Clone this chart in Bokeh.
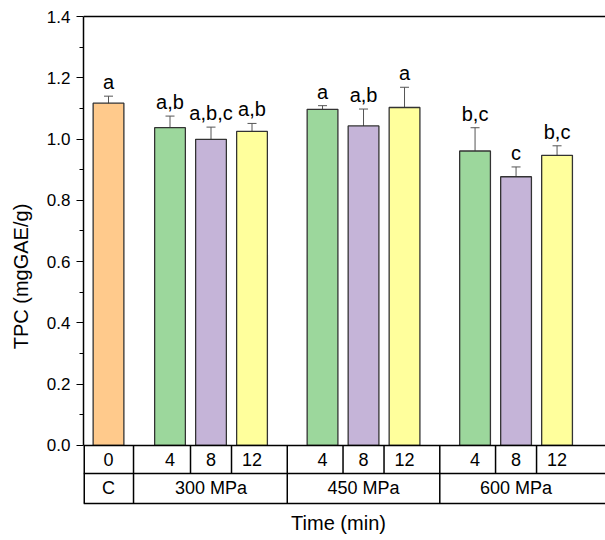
from bokeh.plotting import figure
from bokeh.models import (Range1d, Whisker, TeeHead, ColumnDataSource, FixedTicker,
                          PrintfTickFormatter)
from bokeh.core.properties import value
from bokeh.embed import file_html
from bokeh.resources import INLINE

# ---- data ----
groups = ["C", "300 MPa", "450 MPa", "600 MPa"]
group_times = [["0"], ["4", "8", "12"], ["4", "8", "12"], ["4", "8", "12"]]
tpc = [1.117, 1.037, 0.999, 1.025, 1.097, 1.043, 1.103, 0.961, 0.877, 0.947]
err = [0.023, 0.038, 0.040, 0.026, 0.012, 0.055, 0.066, 0.076, 0.032, 0.031]
letters = ["a", "a,b", "a,b,c", "a,b", "a", "a,b", "a", "b,c", "c", "b,c"]
time_colors = {"0": "#FFCA8C", "4": "#9CD79C", "8": "#C5B4D8", "12": "#FFFF9C"}
y_major = [0.0, 0.2, 0.4, 0.6, 0.8, 1.0, 1.2, 1.4]
y_minor = [0.1, 0.3, 0.5, 0.7, 0.9, 1.1, 1.3]
y_top = 1.4

# ---- layout constants ----
FONT = value("Liberation Sans")
W, H = 605, 540
LEFT, TOP = 83, 12
PX_X = 41.0          # px per x unit
PX_Y = 306.4         # px per y unit
group_gaps = [0, 1.5, 1.72, 1.72]
x_start = -0.61
bar_w = 0.75

pos, times, group_centers = [], [], []
x = 0.0
for gi, tl in enumerate(group_times):
    if gi > 0:
        x += group_gaps[gi]
    first = x
    for j, t in enumerate(tl):
        if j > 0:
            x += 1
        pos.append(x)
        times.append(t)
    group_centers.append((first + x) / 2)

x_end = x_start + (W - LEFT) / PX_X
y_end = y_top + 4.0 / PX_Y
y_start = y_end - (H - TOP) / PX_Y
row1 = -28 / PX_Y
row2 = -58 / PX_Y

p = figure(width=W, height=H, output_backend="svg", toolbar_location=None,
           x_range=Range1d(x_start, x_end), y_range=Range1d(y_start, y_end),
           x_axis_location=None, min_border_left=LEFT, min_border_top=TOP,
           min_border_right=0, min_border_bottom=0)
p.outline_line_color = None
p.xgrid.visible = False
p.ygrid.visible = False
p.background_fill_color = "white"

ax = p.yaxis[0]
ax.bounds = (0, y_top)
ax.ticker = FixedTicker(ticks=y_major, minor_ticks=y_minor)
ax.formatter = PrintfTickFormatter(format="%.1f")
ax.axis_line_width = 1.5
ax.axis_line_color = "black"
ax.major_tick_out = 7
ax.major_tick_in = 0
ax.minor_tick_out = 4
ax.minor_tick_in = 0
ax.major_tick_line_width = 1.2
ax.minor_tick_line_width = 1.2
ax.major_label_text_font = "Liberation Sans"
ax.major_label_text_font_size = "17px"
ax.major_label_text_color = "black"
ax.major_label_standoff = 6
ax.axis_label = "TPC (mgGAE/g)"
ax.axis_label_text_font = "Liberation Sans"
ax.axis_label_text_font_size = "20px"
ax.axis_label_text_font_style = "normal"
ax.axis_label_text_color = "black"
ax.axis_label_standoff = 12

src = ColumnDataSource(dict(
    x=pos, top=tpc, upper=[v + e for v, e in zip(tpc, err)],
    lower=[v - e for v, e in zip(tpc, err)], letter=letters,
    color=[time_colors[t] for t in times], time=times))

p.vbar(x="x", top="top", bottom=0, width=bar_w, fill_color="color",
       line_color="#333333", line_width=1.3, source=src)

wh = Whisker(source=src, base="x", upper="upper", lower="lower",
             line_color="#555555", line_width=1,
             upper_head=TeeHead(size=9, line_color="#555555", line_width=1),
             lower_head=TeeHead(size=9, line_color="#555555", line_width=1))
p.add_layout(wh)

p.text(x="x", y="upper", text="letter", source=src, text_align="center",
       text_baseline="bottom", y_offset=-3, text_font=FONT,
       text_font_size="20px", text_color="black")

# ---- horizontal rules: frame top, axis line, table rows ----
line_kw = dict(line_color="black", line_width=1.5)
p.segment(x0=[x_start] * 4, x1=[x_end] * 4, y0=[y_top, 0, row1, row2],
          y1=[y_top, 0, row1, row2], **line_kw)
p.segment(x0=[x_start], x1=[x_start], y0=[0], y1=[row2], line_color="black", line_width=3)

cell_b = []
for i in range(len(pos) - 1):
    if i == 0:
        cell_b.append(pos[0] + (pos[0] - x_start))
    else:
        cell_b.append((pos[i] + pos[i + 1]) / 2)
gb_idx = []
k = 0
for tl in group_times[:-1]:
    k += len(tl)
    gb_idx.append(k - 1)
inner = [b for i, b in enumerate(cell_b) if i not in gb_idx]
outer = [cell_b[i] for i in gb_idx]
p.segment(x0=inner, x1=inner, y0=[0] * len(inner), y1=[row1] * len(inner), **line_kw)
p.segment(x0=outer, x1=outer, y0=[0] * len(outer), y1=[row2] * len(outer), **line_kw)

p.text(x=pos, y=[row1 / 2] * len(pos), text=times, text_align="center",
       text_baseline="middle", text_font=FONT, text_font_size="18px", text_color="black")
p.text(x=group_centers, y=[(row1 + row2) / 2] * len(groups), text=groups,
       text_align="center", text_baseline="middle", text_font=FONT,
       text_font_size="18px", text_color="black")

p.text(x=[(338 - 108) / PX_X], y=[-78 / PX_Y], text=["Time (min)"], text_align="center",
       text_baseline="middle", text_font=FONT, text_font_size="20px", text_color="black")

open("out.html", "w").write(file_html(p, INLINE))
